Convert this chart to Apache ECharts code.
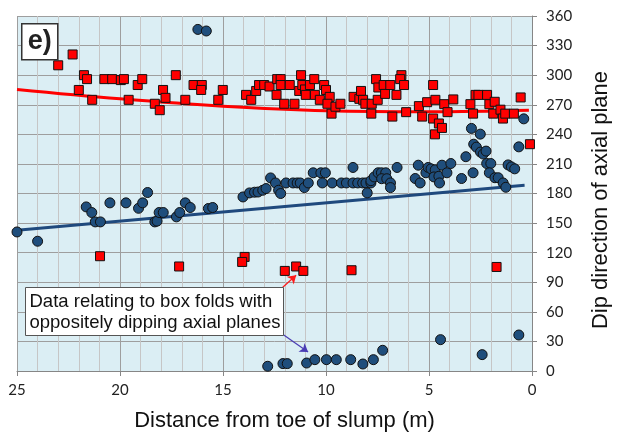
<!DOCTYPE html>
<html>
<head>
<meta charset="utf-8">
<script src="https://cdn.jsdelivr.net/npm/echarts@6/dist/echarts.min.js"></script>
<style>
  html, body { margin: 0; padding: 0; background: #fff; }
  #main { width: 620px; height: 437px; }
</style>
</head>
<body>
<div id="main"></div>
<script>
// distance from toe (m), dip direction (deg)
var redSquares = [
  [23.0, 310], [22.3, 321], [21.75, 300], [21.6, 296], [22.0, 285], [21.35, 275],
  [20.76, 296], [20.38, 296], [19.96, 295], [19.81, 296], [19.58, 275], [19.14, 290],
  [18.92, 296], [18.31, 271], [18.07, 264.5], [17.91, 285], [17.79, 277], [17.29, 300],
  [16.83, 275], [16.43, 290], [16.03, 290], [16.06, 285], [15.23, 275], [15.01, 285],
  [13.88, 280], [13.63, 275], [13.39, 284], [13.25, 290], [13.0, 290], [12.74, 288.5],
  [12.37, 296], [12.2, 296], [12.2, 290], [12.4, 280], [12.03, 271], [11.76, 290],
  [11.53, 271], [11.3, 284], [11.15, 290], [11.21, 300], [11.02, 285.5], [10.78, 290],
  [10.57, 296], [10.98, 280], [10.54, 280], [10.3, 275], [10.09, 290], [10.0, 285],
  [9.82, 278], [9.93, 271], [9.73, 261], [9.54, 268], [9.3, 271], [8.66, 278],
  [8.38, 276], [8.3, 284], [8.2, 275], [8.09, 271], [7.8, 261], [7.78, 271],
  [7.57, 296], [7.46, 287.5], [7.49, 275], [7.2, 290], [7.13, 281], [6.88, 290],
  [6.78, 258], [6.58, 280], [6.34, 300], [6.4, 296], [6.21, 290], [6.11, 262.5],
  [5.49, 268.6], [5.33, 258], [5.09, 272.6], [4.8, 290], [4.8, 256], [4.69, 275],
  [4.71, 240], [4.52, 251], [4.37, 246.5], [4.26, 270.6], [4.1, 262.5], [3.82, 275.4],
  [2.99, 270.6], [2.86, 261], [2.74, 280], [2.6, 280], [2.18, 280], [2.07, 270.6],
  [1.88, 261], [1.81, 273], [1.53, 265], [1.41, 256], [1.3, 261], [0.88, 261],
  [0.55, 277.4], [0.1, 230],
  // box folds
  [20.97, 116.4], [17.13, 106], [13.95, 115.7], [14.07, 110.6], [12.0, 101.5],
  [11.45, 106], [11.1, 101.5], [8.76, 102.2], [1.72, 105.5]
];

var blueCircles = [
  [16.22, 346.4], [15.81, 344.8],
  [25.0, 141], [24.0, 131.6], [21.64, 166.4], [21.37, 160.7], [21.2, 151.2], [20.95, 151.2],
  [20.49, 170.5], [19.71, 170.5], [19.1, 165], [18.9, 170.5], [18.66, 181], [18.31, 151.2],
  [18.2, 152], [18.1, 160.7], [17.9, 160.7], [17.26, 156.3], [17.1, 160.7], [16.83, 170.5],
  [16.59, 165.8], [15.71, 164.8], [15.5, 165.8], [14.03, 176.5], [13.71, 180.6], [13.47, 181.3],
  [13.3, 181.5], [13.07, 183.3], [12.91, 185], [12.69, 195.8], [12.45, 190.7], [12.3, 183.3],
  [12.2, 180], [11.94, 190.7], [11.6, 190.7], [11.4, 190.7], [11.25, 190.7], [11.05, 186],
  [10.86, 190.7], [10.62, 201], [10.25, 201], [10.03, 201], [10.18, 190.7], [9.7, 190.7],
  [9.25, 190.7], [9.01, 190.7], [8.69, 190.7], [8.46, 190.7], [8.22, 190.7], [8.06, 190.7],
  [7.82, 190.7], [8.69, 206.4], [8.0, 180.6], [7.82, 193], [7.66, 196.8], [7.47, 201],
  [7.31, 201], [7.1, 201], [7.3, 195], [7.05, 195], [6.87, 190.7], [6.87, 186],
  [6.55, 206.4], [5.67, 195.2], [5.52, 208.7], [5.43, 190.7], [5.15, 201], [5.04, 206.4],
  [4.9, 205], [4.7, 204], [4.76, 196.8], [4.52, 197.5], [4.49, 190.7], [4.37, 208.7],
  [4.13, 201], [3.94, 210.4], [3.42, 195.2], [3.21, 217.3], [2.94, 246], [2.86, 201],
  [2.83, 230], [2.7, 227], [2.51, 240.2], [2.5, 222], [2.37, 220], [2.23, 223],
  [2.2, 210.4], [2.0, 210.4], [2.07, 201], [1.8, 196], [1.64, 196], [1.4, 190.7],
  [1.27, 186.3], [1.16, 209], [1.0, 207], [0.84, 205], [0.64, 227.3], [0.4, 255.7],
  // box folds
  [12.83, 4.8], [12.09, 7.5], [11.88, 7.5], [10.94, 8.1], [10.54, 11.5], [9.98, 11.5],
  [9.5, 11.5], [8.8, 11.5], [8.21, 7.1], [7.7, 11.5], [7.25, 21], [4.44, 31.8],
  [2.42, 16.6], [0.64, 36.5]
];

// trend lines
var redTrend = [[25, 285.5], [20, 276], [15, 268.5], [10, 264], [5, 263], [0.15, 264.5]];
var blueTrend = [[25, 142.8], [0.36, 188.4]];

// annotation arrows (tail, head)
var redArrow = [[12.26, 81.9], [11.45, 97.1]];
var blueArrow = [[12.26, 39.6], [10.87, 19.3]];

var xRange = [0, 25];
var yRange = [0, 360];

var tickFont = 'Lato, "Open Sans", sans-serif';
var textFont = '"Liberation Sans", Arial, sans-serif';
var majorGrid = '#9e9e9e';
var minorGrid = '#c6c6c6';
var axisGrey = '#868686';

var chart = echarts.init(document.getElementById('main'), null, { renderer: 'canvas' });

var option = {
  animation: false,
  grid: {
    left: 17, right: 79, top: 16, bottom: 66,
    show: true, backgroundColor: '#dbeef4', borderWidth: 0
  },
  xAxis: {
    type: 'value', inverse: true,
    min: xRange[0], max: xRange[1], interval: 5,
    name: 'Distance from toe of slump (m)',
    nameLocation: 'middle', nameGap: 39,
    nameTextStyle: { fontFamily: textFont, fontSize: 22, color: '#111', padding: [0, 0, 0, 20] },
    axisLine: { show: true, lineStyle: { color: axisGrey, width: 1 } },
    axisTick: { show: true, length: 5, lineStyle: { color: axisGrey } },
    axisLabel: { fontFamily: tickFont, fontSize: 15, color: '#222', margin: 12 },
    splitLine: { show: true, lineStyle: { color: majorGrid, width: 1 } },
    minorTick: { show: false, splitNumber: 5 },
    minorSplitLine: { show: true, lineStyle: { color: minorGrid, width: 1 } }
  },
  yAxis: {
    type: 'value', position: 'right',
    min: yRange[0], max: yRange[1], interval: 30,
    name: 'Dip direction of axial plane',
    nameLocation: 'middle', nameGap: 58, nameRotate: 90,
    nameTextStyle: { fontFamily: textFont, fontSize: 22, color: '#111', padding: [0, 13, 0, 0] },
    axisLine: { show: true, lineStyle: { color: axisGrey, width: 1 } },
    axisTick: { show: true, length: 5, lineStyle: { color: axisGrey } },
    axisLabel: { fontFamily: tickFont, fontSize: 15, color: '#222', margin: 14 },
    splitLine: { show: true, lineStyle: { color: majorGrid, width: 1 } }
  },
  series: [
    {
      name: 'red trend', type: 'line', data: redTrend, smooth: 0.4,
      showSymbol: false, symbol: 'none', silent: true, z: 2,
      lineStyle: { color: '#ff0000', width: 3 },
      markLine: {
        silent: true, symbol: ['none', 'arrow'], symbolSize: 8,
        label: { show: false },
        data: [
          [{ coord: redArrow[0], lineStyle: { color: '#ff1a1a', width: 1.2, type: 'solid' } }, { coord: redArrow[1] }],
          [{ coord: blueArrow[0], lineStyle: { color: '#4a3cb4', width: 1.2, type: 'solid' } }, { coord: blueArrow[1] }]
        ]
      }
    },
    {
      name: 'blue trend', type: 'line', data: blueTrend,
      showSymbol: false, symbol: 'none', silent: true, z: 2,
      lineStyle: { color: '#1f497d', width: 3 }
    },
    {
      name: 'red', type: 'scatter', data: redSquares, z: 3,
      symbol: 'rect', symbolSize: 9,
      itemStyle: { color: '#ff0000', borderColor: '#111', borderWidth: 1, opacity: 1 }
    },
    {
      name: 'blue', type: 'scatter', data: blueCircles, z: 3,
      symbol: 'circle', symbolSize: 10,
      itemStyle: { color: '#1f4e7c', borderColor: '#111', borderWidth: 1, opacity: 1 }
    }
  ],
  graphic: [
    {
      type: 'group', left: 21, top: 23, z: 100,
      children: [
        { type: 'rect', z: 100, shape: { x: 0, y: 0, width: 36, height: 36 },
          style: { fill: '#ffffff', stroke: '#333', lineWidth: 1.5 } },
        { type: 'text', z: 101, x: 18, y: 18,
          style: { text: 'e)', fontFamily: textFont, fontWeight: 'bold', fontSize: 27,
                   fill: '#222', align: 'center', verticalAlign: 'middle' } }
      ]
    },
    {
      type: 'group', left: 25, top: 287, z: 100,
      children: [
        { type: 'rect', z: 100, shape: { x: 0, y: 0, width: 258, height: 48 },
          style: { fill: '#ffffff', stroke: '#555', lineWidth: 1 } },
        { type: 'text', z: 101, x: 4, y: 14.5,
          style: { text: 'Data relating to box folds with', fontFamily: textFont, fontSize: 18.5,
                   fill: '#111', verticalAlign: 'middle' } },
        { type: 'text', z: 101, x: 4, y: 35.5,
          style: { text: 'oppositely dipping axial planes', fontFamily: textFont, fontSize: 18.5,
                   fill: '#111', verticalAlign: 'middle' } }
      ]
    }
  ]
};

chart.setOption(option);
</script>
</body>
</html>
